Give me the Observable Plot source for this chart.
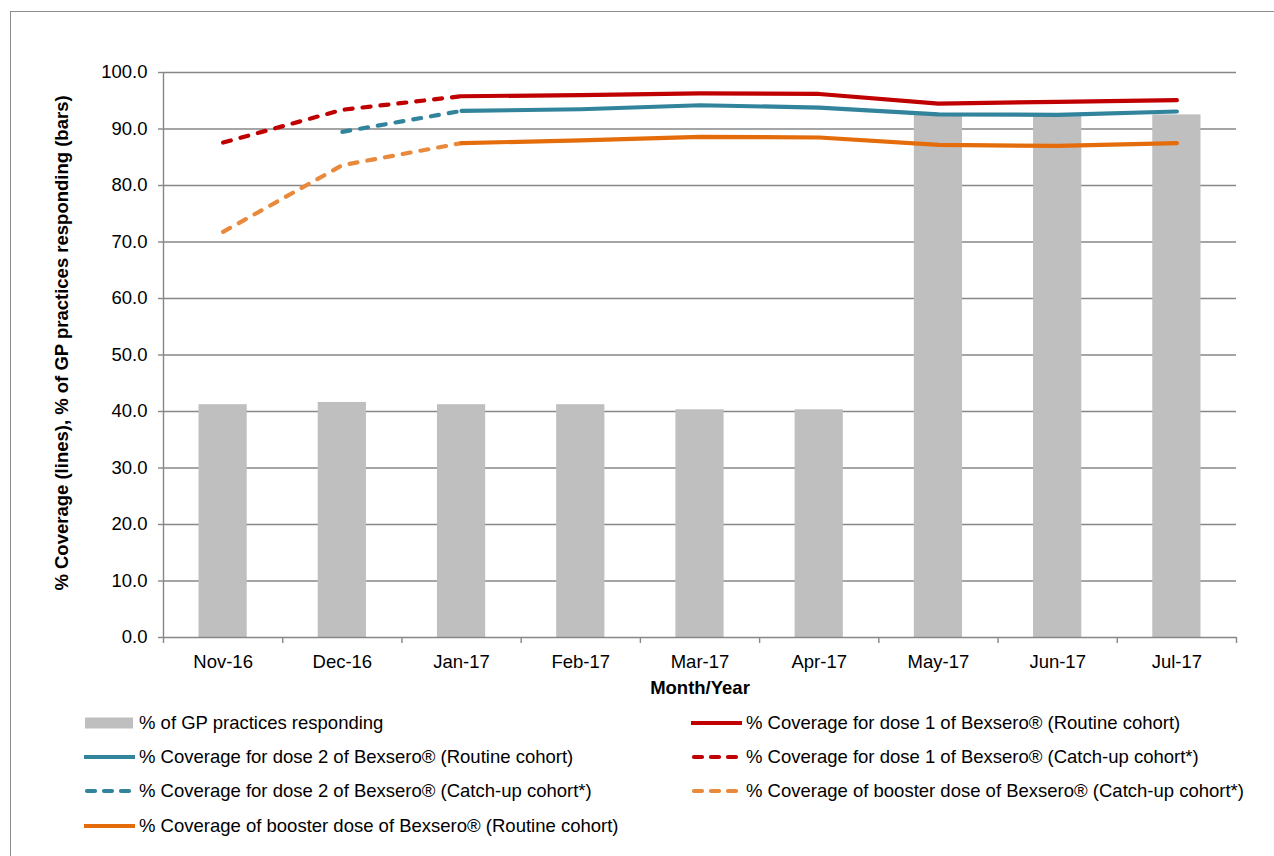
<!DOCTYPE html>
<html>
<head>
<meta charset="utf-8">
<script src="https://cdn.jsdelivr.net/npm/d3@7"></script>
<script src="https://cdn.jsdelivr.net/npm/@observablehq/plot@0.6"></script>
<style>
  html, body { margin: 0; padding: 0; background: #fff; overflow: hidden; }
  body { width: 1274px; height: 856px; position: relative; font-family: "Liberation Sans", Arial, sans-serif; }
  #frame { position: absolute; left: 10px; top: 11px; width: 1300px; height: 900px; border: 1.5px solid #8c8c8c; box-sizing: border-box; }
  #chart { position: absolute; left: 0; top: 0; }
  #legend { position: absolute; left: 0; top: 0; width: 1274px; height: 856px; pointer-events: none; }
  .item { position: absolute; display: flex; align-items: center; height: 24px; font-size: 18.5px; color: #000; white-space: nowrap; }
  .item svg { margin-right: 4px; }
</style>
</head>
<body>
<div id="frame"></div>
<div id="chart"></div>
<div id="legend"></div>
<script>
// ---- data ----
const months = ["Nov-16","Dec-16","Jan-17","Feb-17","Mar-17","Apr-17","May-17","Jun-17","Jul-17"];
const gpResponding    = [41.2, 41.6, 41.2, 41.2, 40.3, 40.3, 92.4, 92.4, 92.5];
const dose1Routine    = [null, null, 95.8, 96.0, 96.3, 96.2, 94.5, 94.8, 95.1];
const dose2Routine    = [null, null, 93.2, 93.5, 94.2, 93.8, 92.6, 92.5, 93.1];
const boosterRoutine  = [null, null, 87.5, 88.0, 88.6, 88.5, 87.2, 87.0, 87.5];
const dose1Catchup    = [87.6, 93.4, 95.8, null, null, null, null, null, null];
const dose2Catchup    = [null, 89.5, 93.2, null, null, null, null, null, null];
const boosterCatchup  = [71.8, 83.6, 87.5, null, null, null, null, null, null];
const yTicks = [0,10,20,30,40,50,60,70,80,90,100];

const barLabel = "% of GP practices responding";
const series = [
  {name: "% Coverage for dose 1 of Bexsero\u00AE (Routine cohort)", values: dose1Routine, color: "#c00000", dash: null},
  {name: "% Coverage for dose 2 of Bexsero\u00AE (Routine cohort)", values: dose2Routine, color: "#31849b", dash: null},
  {name: "% Coverage for dose 1 of Bexsero\u00AE (Catch-up cohort*)", values: dose1Catchup, color: "#c00000", dash: "8,10"},
  {name: "% Coverage for dose 2 of Bexsero\u00AE (Catch-up cohort*)", values: dose2Catchup, color: "#31849b", dash: "8,10"},
  {name: "% Coverage of booster dose of Bexsero\u00AE (Catch-up cohort*)", values: boosterCatchup, color: "#e8893b", dash: "8,10"},
  {name: "% Coverage of booster dose of Bexsero\u00AE (Routine cohort)", values: boosterRoutine, color: "#e46c0a", dash: null}
];

const bars = months.map((m, i) => ({i, v: gpResponding[i]}));
const idx = months.map((m, i) => i);
const bounds = d3.range(-0.5, months.length, 1);
const gridColor = "#878787";

const lineMarks = series.map(s =>
  Plot.line(s.values.map((v, i) => ({i, v})).filter(d => d.v != null), {
    x: "i", y: "v", stroke: s.color, strokeWidth: 4.2,
    strokeDasharray: s.dash || undefined, strokeLinecap: "round", strokeLinejoin: "round"
  })
);

const chart = Plot.plot({
  width: 1274,
  height: 700,
  marginTop: 72,
  marginBottom: 63,
  marginLeft: 163,
  marginRight: 38,
  style: {fontFamily: "'Liberation Sans', Arial, sans-serif", fontSize: "18.5px", color: "#000", background: "transparent", overflow: "visible"},
  x: {domain: [-0.5, months.length - 0.5], axis: null, label: null},
  y: {domain: [0, 100], axis: null, label: null},
  marks: [
    Plot.gridY(yTicks.slice(1), {stroke: gridColor, strokeOpacity: 1, strokeWidth: 1.4}),
    Plot.axisY(yTicks, {label: null, tickSize: 5, tickPadding: 11, stroke: gridColor, strokeWidth: 1.4, tickFormat: d => d.toFixed(1), fontSize: 18.5, fill: "#000"}),
    Plot.rectY(bars, {x1: d => d.i - 0.5, x2: d => d.i + 0.5, y: "v", fill: "#bfbfbf", insetLeft: 35.5, insetRight: 35.5}),
    Plot.ruleX([-0.5], {stroke: gridColor, strokeWidth: 1.4}),
    Plot.ruleY([0], {stroke: gridColor, strokeWidth: 1.4}),
    Plot.axisX(bounds, {label: null, tickSize: 6, tickFormat: () => "", stroke: gridColor, strokeWidth: 1.4}),
    Plot.axisX(idx, {label: null, tickSize: 0, tickPadding: 17, tickFormat: i => months[i], fontSize: 18.5, fill: "#000"}),
    ...lineMarks,
    Plot.text(["Month/Year"], {frameAnchor: "bottom", lineAnchor: "middle", dy: 51, fontWeight: "bold", fontSize: 18.5, fill: "#000"}),
    Plot.text(["% Coverage (lines), % of GP practices responding (bars)"], {frameAnchor: "left", textAnchor: "middle", lineAnchor: "middle", dx: -101, dy: -12, rotate: -90, fontWeight: "bold", fontSize: 18.5, fill: "#000"})
  ]
});
document.getElementById("chart").appendChild(chart);

// ---- legend ----
const legend = document.getElementById("legend");
const legendItems = [
  {name: barLabel, bar: true},
  series[0], series[1], series[2], series[3], series[4], series[5]
];
const rowY = [723, 757, 791, 826];
const colX = [83, 690];
legendItems.forEach((it, k) => {
  const row = Math.floor(k / 2), col = k % 2;
  const div = document.createElement("div");
  div.className = "item";
  div.style.left = colX[col] + "px";
  div.style.top = (rowY[row] - 12) + "px";
  const ns = "http://www.w3.org/2000/svg";
  const svg = document.createElementNS(ns, "svg");
  svg.setAttribute("width", 52); svg.setAttribute("height", 24);
  if (it.bar) {
    const r = document.createElementNS(ns, "rect");
    r.setAttribute("x", 2); r.setAttribute("y", 6.5); r.setAttribute("width", 48); r.setAttribute("height", 11);
    r.setAttribute("fill", "#bfbfbf");
    svg.appendChild(r);
  } else {
    const l = document.createElementNS(ns, "line");
    l.setAttribute("x1", it.dash ? 4 : 1); l.setAttribute("x2", it.dash ? 50 : 52);
    l.setAttribute("y1", 12); l.setAttribute("y2", 12);
    l.setAttribute("stroke", it.color); l.setAttribute("stroke-width", 4.2);
    if (it.dash) { l.setAttribute("stroke-dasharray", "8,9"); l.setAttribute("stroke-linecap", "round"); }
    svg.appendChild(l);
  }
  div.appendChild(svg);
  const span = document.createElement("span");
  span.textContent = it.name;
  div.appendChild(span);
  legend.appendChild(div);
});
</script>
</body>
</html>
